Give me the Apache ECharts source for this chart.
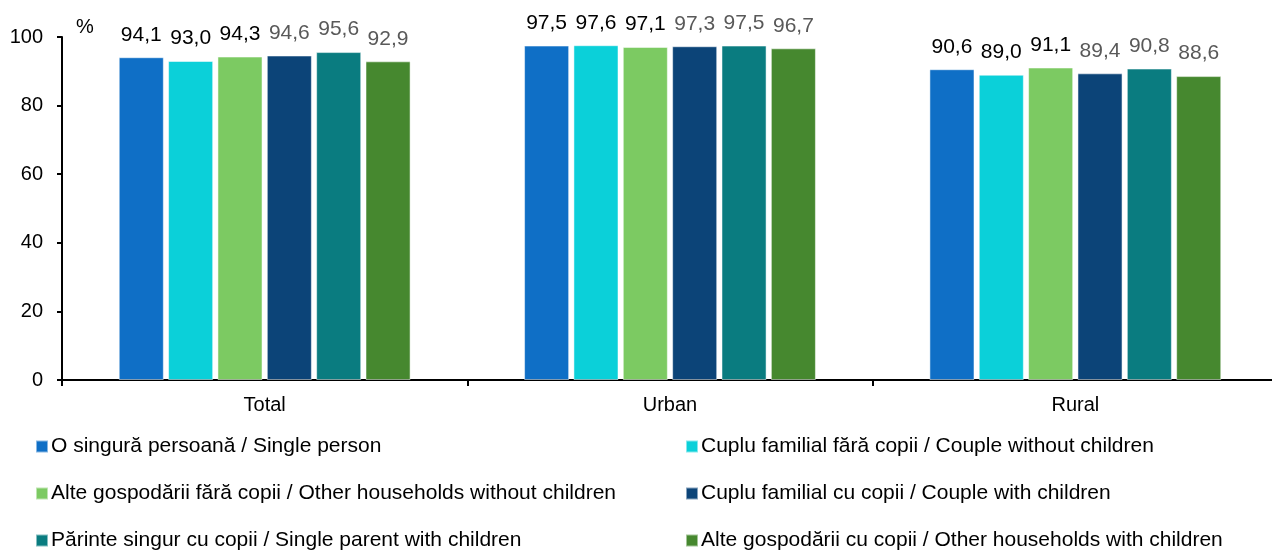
<!DOCTYPE html>
<html><head><meta charset="utf-8">
<script src="https://cdn.jsdelivr.net/npm/echarts@6/dist/echarts.min.js"></script>
<style>html,body{margin:0;padding:0;background:#fff}#c{width:1272px;height:550px}</style>
</head><body><div id="c"></div>
<script>
const categories = ['Total', 'Urban', 'Rural'];
const seriesNames = [
  'O singură persoană / Single person',
  'Cuplu familial fără copii / Couple without children',
  'Alte gospodării fără copii / Other households without children',
  'Cuplu familial cu copii / Couple with children',
  'Părinte singur cu copii / Single parent with children',
  'Alte gospodării cu copii / Other households with children'
];
const singlePerson = [94.1, 97.5, 90.6];
const coupleNoChildren = [93.0, 97.6, 89.0];
const otherNoChildren = [94.3, 97.1, 91.1];
const coupleWithChildren = [94.6, 97.3, 89.4];
const singleParent = [95.6, 97.5, 90.8];
const otherWithChildren = [92.9, 96.7, 88.6];
const yTicks = [0, 20, 40, 60, 80, 100];

const values = [singlePerson, coupleNoChildren, otherNoChildren, coupleWithChildren, singleParent, otherWithChildren];
const colors = ['#0F6FC6', '#0BD0D9', '#7CCA62', '#0C4478', '#0A7C80', '#46882F'];
const labelColors = ['#000', '#000', '#000', '#595959', '#595959', '#595959'];
const font = 'Liberation Sans, Arial, sans-serif';

const chart = echarts.init(document.getElementById('c'));
const legendPos = [
  {left: 35, top: 436}, {left: 685, top: 436},
  {left: 35, top: 483}, {left: 685, top: 483},
  {left: 35, top: 530}, {left: 685, top: 530}
];
chart.setOption({
  animation: false,
  grid: {left: 62, width: 1216, top: 37, bottom: 170, containLabel: false, outerBoundsMode: 'none'},
  legend: seriesNames.map((n, i) => ({
    data: [n], left: legendPos[i].left, top: legendPos[i].top,
    itemWidth: 12, itemHeight: 12, icon: 'rect', padding: 0,
    textStyle: {fontFamily: font, fontSize: 21, color: '#000', padding: [0, 0, 0, -2]}
  })),
  xAxis: {
    type: 'category', data: categories,
    axisLine: {lineStyle: {color: '#000', width: 2}},
    axisTick: {show: true, length: 6, lineStyle: {color: '#000', width: 2}},
    axisLabel: {fontFamily: font, fontSize: 20, color: '#000', margin: 15}
  },
  yAxis: {
    type: 'value', min: 0, max: 100, interval: 20,
    name: '%', nameLocation: 'end', nameGap: 0,
    nameTextStyle: {fontFamily: font, fontSize: 20, color: '#000', align: 'left', padding: [0, 0, 0, 14], verticalAlign: 'bottom'},
    axisLine: {show: true, lineStyle: {color: '#000', width: 2}},
    axisTick: {show: true, length: 5, lineStyle: {color: '#000', width: 2}},
    splitLine: {show: false},
    axisLabel: {fontFamily: font, fontSize: 20, color: '#000', margin: 19,
      formatter: v => yTicks.includes(v) ? String(v) : ''}
  },
  series: values.map((d, i) => ({
    name: seriesNames[i], type: 'bar', data: d,
    barCategoryGap: '28%', barGap: '9.5%',
    itemStyle: {color: colors[i], borderColor: 'rgba(255,255,255,0.5)', borderWidth: 1},
    label: {show: true, position: 'top', distance: 12, fontFamily: font, fontSize: 21,
      color: labelColors[i], formatter: p => p.value.toFixed(1).replace('.', ',')}
  }))
});
</script></body></html>
